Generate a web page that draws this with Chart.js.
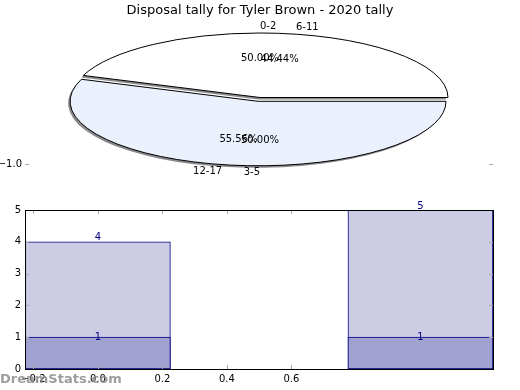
<!DOCTYPE html>
<html>
<head>
<meta charset="utf-8">
<script src="https://cdn.jsdelivr.net/npm/chart.js@4.4.1/dist/chart.umd.min.js"></script>
<style>
  html, body { margin: 0; padding: 0; background: #fff; }
  #wrap { position: relative; width: 520px; height: 390px; }
  #pie { position: absolute; left: 0; top: 0; }
  #bars { position: absolute; left: 0; top: 190px; }
</style>
</head>
<body>
<div id="wrap">
  <canvas id="pie" width="520" height="190"></canvas>
  <canvas id="bars" width="520" height="200"></canvas>
</div>
<script>
var titleText = 'Disposal tally for Tyler Brown - 2020 tally';

// pie drawn underneath (only its labels show through)
var pieALabels = ['0-2', '3-5'];
var pieAValues = [1, 1];
// pie on top
var pieBLabels = ['6-11', '12-17'];
var pieBValues = [4, 5];

// bars at x = 0 and x = 1, drawn over each other
var barPositions = [0, 1];
var barTotals = [4, 5];
var barBase = [1, 1];

var xTicks = [-0.2, 0, 0.2, 0.4, 0.6];
var yTicks = [0, 1, 2, 3, 4, 5];

// look of the squashed pie
var pieRx = 188, pieRy = 64.5;
var explode = [0, 0.06];
var wedgeColors = ['#ffffff', '#eaf1fd'];

Chart.defaults.font.family = '"DejaVu Sans", sans-serif';
Chart.defaults.color = '#000';

var squashPie = {
    id: 'squashPie',
    beforeDatasetsDraw: function (chart) {
        var ctx = chart.ctx;
        var arcs = chart.getDatasetMeta(1).data;
        var k = pieRy / pieRx;

        function place(arc, i) {
            var mid = (arc.startAngle + arc.endAngle) / 2;
            var e = explode[i] * pieRx;
            ctx.translate(arc.x, arc.y);
            ctx.scale(1, -k);
            ctx.translate(-arc.x, -arc.y);
            ctx.translate(Math.cos(mid) * e, Math.sin(mid) * e);
        }
        function outline(arc) {
            ctx.beginPath();
            ctx.moveTo(arc.x, arc.y);
            ctx.arc(arc.x, arc.y, pieRx, arc.startAngle, arc.endAngle);
            ctx.closePath();
        }

        // shadows first
        arcs.forEach(function (arc, i) {
            ctx.save();
            ctx.translate(-2, 2);
            place(arc, i);
            outline(arc);
            ctx.fillStyle = 'rgba(60,60,65,0.6)';
            ctx.fill();
            ctx.restore();
        });
        // wedges, stroked after the squash so the line stays 1px
        arcs.forEach(function (arc, i) {
            ctx.save();
            place(arc, i);
            arc.draw(ctx);
            outline(arc);
            ctx.restore();
            ctx.save();
            ctx.lineWidth = 1;
            ctx.strokeStyle = '#000';
            ctx.stroke();
            ctx.restore();
        });
        return false;
    },
    afterDraw: function (chart) {
        var ctx = chart.ctx;
        ctx.save();
        ctx.font = '10px "DejaVu Sans"';
        ctx.fillStyle = '#000';
        ctx.textBaseline = 'middle';
        var sets = [[pieALabels, pieAValues, 0], [pieBLabels, pieBValues, 1]];
        var cy = 0;
        sets.forEach(function (s) {
            var labels = s[0], vals = s[1];
            var total = vals.reduce(function (a, b) { return a + b; }, 0);
            chart.getDatasetMeta(s[2]).data.forEach(function (arc, i) {
                var mid = (arc.startAngle + arc.endAngle) / 2;
                var c = Math.cos(mid), sn = Math.sin(mid);
                var ox = arc.x + explode[i] * pieRx * c;
                var oy = arc.y - explode[i] * pieRy * sn;
                cy = arc.y;
                ctx.textAlign = c > 0 ? 'left' : 'right';
                ctx.fillText(labels[i], ox + 1.1 * pieRx * c, oy - 1.1 * pieRy * sn);
                ctx.textAlign = 'center';
                ctx.fillText((vals[i] / total * 100).toFixed(2) + '%', ox + 0.6 * pieRx * c, oy - 0.6 * pieRy * sn);
            });
        });
        // leftover y tick of the pie axes
        var yt = Math.round(cy + pieRy + 1.5);
        ctx.textAlign = 'right';
        ctx.fillText('\u22121.0', 22, yt);
        ctx.strokeStyle = '#aaa';
        ctx.lineWidth = 1;
        ctx.beginPath();
        ctx.moveTo(25, yt + 0.5); ctx.lineTo(29, yt + 0.5);
        ctx.moveTo(489, yt + 0.5); ctx.lineTo(493, yt + 0.5);
        ctx.stroke();
        ctx.restore();
    }
};

new Chart(document.getElementById('pie'), {
    type: 'pie',
    data: {
        labels: pieBLabels,
        datasets: [
            { data: pieAValues, weight: 0, rotation: 90, backgroundColor: wedgeColors, borderWidth: 0 },
            { data: pieBValues, rotation: 90, backgroundColor: wedgeColors, borderWidth: 0 }
        ]
    },
    options: {
        animation: false,
        responsive: false,
        radius: pieRx,
        layout: { padding: { bottom: 13.6 } },
        plugins: {
            legend: { display: false },
            tooltip: { enabled: false },
            title: {
                display: true,
                text: titleText,
                color: '#000',
                font: { size: 13, weight: 'normal' },
                padding: { top: 3, bottom: 0 }
            }
        }
    },
    plugins: [squashPie]
});

function fmtTick(v) {
    if (Math.abs(v) < 1e-9) v = 0;
    return v.toFixed(1).replace('-', '\u2212');
}

var barFrame = {
    id: 'barFrame',
    afterDatasetsDraw: function (chart) {
        var ctx = chart.ctx, a = chart.chartArea;
        var xs = chart.scales.x, ys = chart.scales.y;
        ctx.save();
        // inward tick marks
        ctx.strokeStyle = '#aaa';
        ctx.lineWidth = 1;
        ctx.beginPath();
        xTicks.forEach(function (v) {
            var px = Math.round(xs.getPixelForValue(v)) + 0.5;
            ctx.moveTo(px, a.bottom); ctx.lineTo(px, a.bottom - 4);
            ctx.moveTo(px, a.top); ctx.lineTo(px, a.top + 4);
        });
        yTicks.forEach(function (v) {
            var py = Math.round(ys.getPixelForValue(v)) + 0.5;
            ctx.moveTo(a.left, py); ctx.lineTo(a.left + 4, py);
            ctx.moveTo(a.right, py); ctx.lineTo(a.right - 4, py);
        });
        ctx.stroke();
        // frame
        ctx.strokeStyle = '#000';
        ctx.strokeRect(Math.round(a.left) + 0.5, Math.round(a.top) + 0.5,
            Math.round(a.right - a.left), Math.round(a.bottom - a.top));
        // value labels
        ctx.font = '10px "DejaVu Sans"';
        ctx.fillStyle = '#000080';
        ctx.textAlign = 'center';
        chart.data.datasets.forEach(function (ds, di) {
            chart.getDatasetMeta(di).data.forEach(function (bar, i) {
                ctx.textBaseline = di === 0 ? 'middle' : 'bottom';
                ctx.fillText(String(ds.data[i].y), bar.x, bar.y + (di === 0 ? 0 : 1));
            });
        });
        ctx.restore();
    },
    afterDraw: function (chart) {
        var ctx = chart.ctx;
        ctx.save();
        ctx.font = 'bold 13px "DejaVu Sans"';
        ctx.fillStyle = 'rgba(140,140,140,0.85)';
        ctx.textAlign = 'left';
        ctx.textBaseline = 'middle';
        ctx.fillText('DreamStats.com', 0, 190);
        ctx.restore();
    }
};

new Chart(document.getElementById('bars'), {
    type: 'bar',
    data: {
        datasets: [
            {
                data: barPositions.map(function (x, i) { return { x: x, y: barBase[i] }; }),
                backgroundColor: '#a1a1d1',
                borderColor: '#000080',
                borderWidth: 1,
                borderSkipped: false,
                grouped: false,
                barThickness: 145
            },
            {
                data: barPositions.map(function (x, i) { return { x: x, y: barTotals[i] }; }),
                backgroundColor: '#ccccE5',
                borderColor: '#000080',
                borderWidth: 1,
                borderSkipped: false,
                grouped: false,
                barThickness: 145
            }
        ]
    },
    options: {
        animation: false,
        responsive: false,
        layout: { padding: { top: 20, right: 27, left: 0, bottom: 0 } },
        plugins: { legend: { display: false }, tooltip: { enabled: false } },
        scales: {
            x: {
                type: 'linear',
                offset: false,
                min: -0.226,
                max: 1.225,
                afterBuildTicks: function (s) { s.ticks = xTicks.map(function (v) { return { value: v }; }); },
                afterFit: function (s) { s.height = 21; },
                grid: { display: false, drawTicks: false },
                border: { display: false },
                ticks: { callback: fmtTick, padding: 4, font: { size: 10 }, color: '#000', maxRotation: 0 }
            },
            y: {
                min: 0,
                max: 5,
                afterBuildTicks: function (s) { s.ticks = yTicks.map(function (v) { return { value: v }; }); },
                afterFit: function (s) { s.width = 25; },
                grid: { display: false, drawTicks: false },
                border: { display: false },
                ticks: { padding: 4, font: { size: 10 }, color: '#000' }
            }
        }
    },
    plugins: [barFrame]
});
</script>
</body>
</html>
